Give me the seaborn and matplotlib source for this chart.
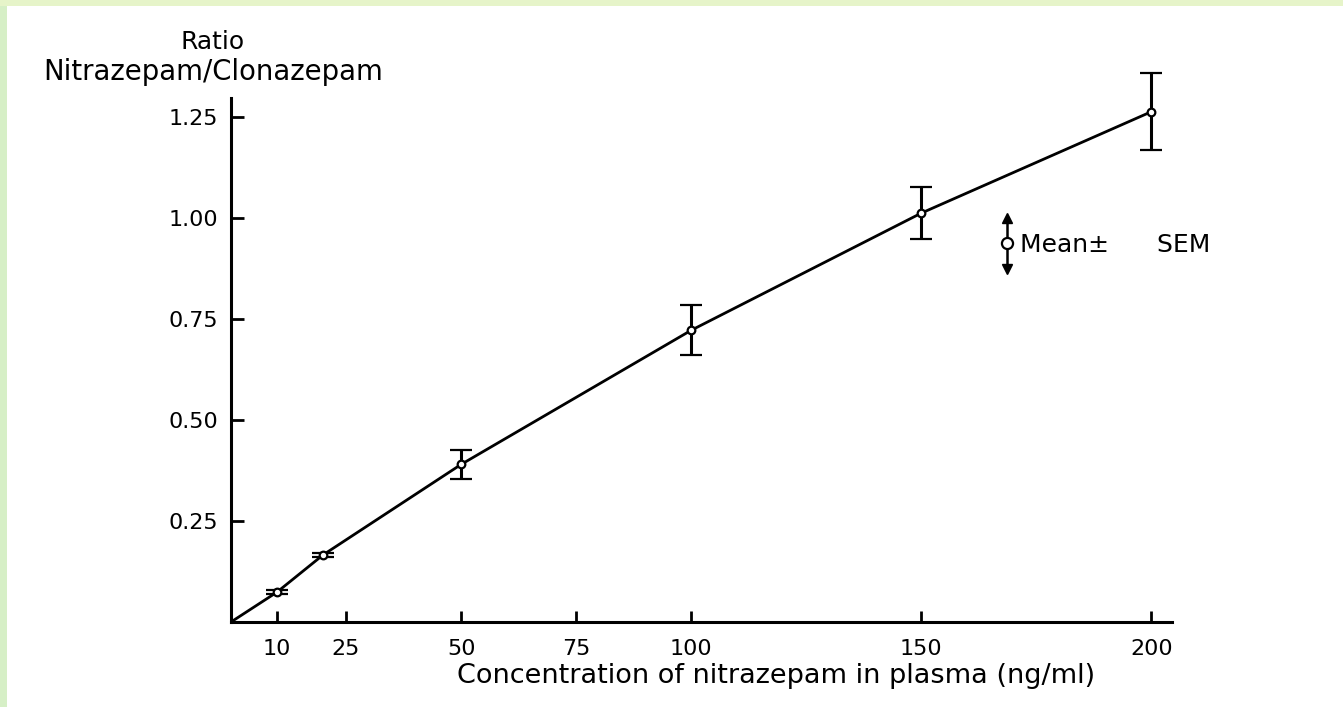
import matplotlib
matplotlib.use("Agg")
import matplotlib.pyplot as plt
import seaborn as sns
import pandas as pd
from matplotlib.lines import Line2D
from matplotlib.legend_handler import HandlerBase
from matplotlib.patches import Rectangle

# ---- data ----
concentration = [10, 20, 50, 100, 150, 200]
ratio_mean = [0.074, 0.166, 0.390, 0.722, 1.012, 1.263]
ratio_sem = [0.004, 0.006, 0.036, 0.062, 0.064, 0.095]
curve_x = [0, 10, 20, 50, 100, 150, 200]
curve_y = [0.0, 0.074, 0.166, 0.390, 0.722, 1.012, 1.263]
xtick_values = [10, 25, 50, 75, 100, 150, 200]
xtick_labels = ["10", "25", "50", "75", "100", "150", "200"]
ytick_values = [0.25, 0.50, 0.75, 1.00, 1.25]
ytick_labels = ["0.25", "0.50", "0.75", "1.00", "1.25"]

sns.set_style("ticks")
plt.rcParams["font.family"] = ["DejaVu Sans"]

fig = plt.figure(figsize=(13.43, 7.07), dpi=100)
fig.patch.set_facecolor("white")

# scanned-slide border (green strips)
fig.add_artist(Rectangle((0, 0), 7 / 1343, 1, transform=fig.transFigure,
                         facecolor="#d6efc6", edgecolor="none", zorder=-10))
fig.add_artist(Rectangle((0, 1 - 6 / 707), 1, 6 / 707, transform=fig.transFigure,
                         facecolor="#e6f4c9", edgecolor="none", zorder=-10))

ax = fig.add_axes([231 / 1343, 1 - 622 / 707, (1172 - 231) / 1343, (622 - 98) / 707])
ax.set_facecolor("none")

curve = pd.DataFrame({"x": curve_x, "y": curve_y})
sns.lineplot(data=curve, x="x", y="y", ax=ax, color="black", linewidth=2.0,
             sort=False, estimator=None)

eb = ax.errorbar(concentration, ratio_mean, yerr=ratio_sem, fmt="o", color="black",
                 ms=5.5, mfc="white", mec="black", mew=1.6, elinewidth=2.2,
                 capsize=8, capthick=3, zorder=5)
for art in eb.lines[1] + eb.lines[2] + (eb.lines[0],):
    art.set_clip_on(False)

ax.set_xlim(0, 204.5)
ax.set_ylim(0, 1.297)
ax.set_xticks(xtick_values)
ax.set_xticklabels(xtick_labels)
ax.set_yticks(ytick_values)
ax.set_yticklabels(ytick_labels)

for s in ["top", "right"]:
    ax.spines[s].set_visible(False)
for s in ["left", "bottom"]:
    ax.spines[s].set_linewidth(2.2)
    ax.spines[s].set_color("black")

ax.tick_params(axis="y", direction="in", length=9, width=2, labelsize=16,
               pad=9, colors="black")
ax.tick_params(axis="x", direction="in", length=8, width=2, labelsize=16,
               pad=12, colors="black")

ax.set_xlabel("Concentration of nitrazepam in plasma (ng/ml)", fontsize=19.5,
              color="black")
ax.xaxis.set_label_coords((776 - 231) / 941, -(663 - 622) / 524)
ax.set_ylabel("")

fig.text(213 / 1343, 1 - 42 / 707, "Ratio", ha="center", va="center",
         fontsize=18, color="black")
fig.text(213 / 1343, 1 - 72 / 707, "Nitrazepam/Clonazepam", ha="center",
         va="center", fontsize=19.8, color="black")


class MeanSemHandler(HandlerBase):
    def create_artists(self, legend, orig_handle, xdescent, ydescent, width,
                       height, fontsize, trans):
        cx = 0.5 * width - xdescent
        cy = 0.5 * height - ydescent
        h = 1.45 * height
        bar = Line2D([cx, cx], [cy - h, cy + h], color="black", lw=1.8)
        up = Line2D([cx], [cy + h], marker="^", ms=7, color="black", ls="none")
        dn = Line2D([cx], [cy - h], marker="v", ms=7, color="black", ls="none")
        mk = Line2D([cx], [cy], marker="o", ms=8, mfc="white", mec="black",
                    mew=1.6, ls="none")
        arts = [bar, up, dn, mk]
        for a in arts:
            a.set_transform(trans)
        return arts


leg = ax.legend([eb], ["Mean\u00b1      SEM"], handler_map={type(eb): MeanSemHandler()},
                loc="center left", bbox_to_anchor=((998 - 231) / 941, (622 - 245) / 524),
                frameon=False, fontsize=18, handlelength=0.75, handletextpad=0.15,
                borderaxespad=0, borderpad=0, labelcolor="black")

fig.savefig("out.png", dpi=100, facecolor=fig.get_facecolor())
